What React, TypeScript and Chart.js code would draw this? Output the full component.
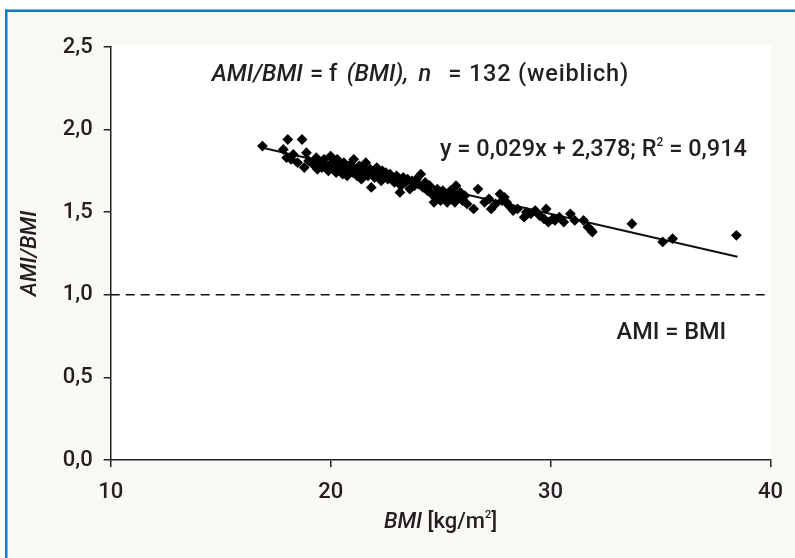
import React, { useEffect, useRef } from 'react';
import { Chart, registerables } from 'chart.js';

Chart.register(...registerables);

// BMI values (x), n = 132
const bmiValues = [
  16.9, 17.85, 18.05, 18.7, 18.0, 18.2, 18.3, 18.5, 18.9, 18.8,
  19.0, 19.2, 19.35, 19.4, 19.55, 19.6, 19.7, 19.8, 19.9, 20.0,
  20.05, 20.1, 20.2, 20.25, 20.3, 20.4, 20.5, 20.55, 20.6, 20.7,
  20.75, 20.8, 20.9, 21.0, 21.05, 21.1, 21.2, 21.3, 21.35, 21.4,
  21.5, 21.55, 21.6, 21.7, 21.8, 21.85, 21.9, 22.0, 22.1, 22.2,
  22.3, 22.35, 22.4, 22.5, 22.6, 22.7, 22.8, 22.9, 23.0, 23.1,
  23.15, 23.2, 23.3, 23.4, 23.5, 23.6, 23.7, 23.8, 23.9, 24.0,
  24.1, 24.2, 24.3, 24.4, 24.5, 24.6, 24.7, 24.75, 24.85, 24.95,
  25.0, 25.05, 25.1, 25.2, 25.25, 25.3, 25.4, 25.45, 25.5, 25.6,
  25.65, 25.7, 25.8, 25.9, 26.0, 26.1, 26.2, 26.5, 26.7, 27.0,
  27.2, 27.3, 27.5, 27.7, 27.8, 27.9, 28.0, 28.1, 28.3, 28.5,
  28.8, 28.9, 29.1, 29.3, 29.5, 29.7, 29.8, 29.9, 30.1, 30.2,
  30.4, 30.6, 30.9, 31.1, 31.5, 31.7, 31.85, 31.9, 33.7, 35.1,
  35.55, 38.45,
];

// AMI/BMI values (y), same order as bmiValues
const ratioValues = [
  1.90, 1.88, 1.94, 1.94, 1.83, 1.82, 1.85, 1.80, 1.86, 1.77,
  1.81, 1.79, 1.83, 1.76, 1.80, 1.77, 1.82, 1.78, 1.75, 1.84,
  1.80, 1.77, 1.79, 1.74, 1.82, 1.76, 1.78, 1.73, 1.80, 1.75,
  1.72, 1.77, 1.79, 1.74, 1.82, 1.76, 1.72, 1.78, 1.75, 1.70,
  1.77, 1.74, 1.80, 1.72, 1.76, 1.65, 1.74, 1.71, 1.77, 1.73,
  1.69, 1.75, 1.72, 1.74, 1.70, 1.73, 1.71, 1.68, 1.72, 1.70,
  1.62, 1.66, 1.71, 1.68, 1.70, 1.64, 1.69, 1.66, 1.70, 1.67,
  1.73, 1.65, 1.68, 1.63, 1.66, 1.61, 1.56, 1.59, 1.64, 1.62,
  1.57, 1.60, 1.63, 1.58, 1.61, 1.56, 1.60, 1.63, 1.58, 1.61,
  1.56, 1.66, 1.59, 1.62, 1.57, 1.60, 1.55, 1.52, 1.64, 1.56,
  1.58, 1.52, 1.55, 1.61, 1.57, 1.59, 1.56, 1.54, 1.51, 1.52,
  1.47, 1.50, 1.49, 1.51, 1.48, 1.46, 1.52, 1.44, 1.46, 1.45,
  1.47, 1.44, 1.49, 1.45, 1.45, 1.41, 1.39, 1.38, 1.43, 1.32,
  1.34, 1.36,
];

// regression line end points
const fitBmi = [16.9, 38.5];
const fitRatio = [1.89, 1.23];

// reference line AMI = BMI
const refBmi = [10, 40];
const refRatio = [1.0, 1.0];

const xTickValues = [10, 20, 30, 40];
const yTickValues = [0, 0.5, 1.0, 1.5, 2.0, 2.5];

// title pieces: text, italic, BMI value of the left edge, letter spacing
const titleSegments: [string, boolean, number, number][] = [
  ['AMI/BMI', true, 14.59, 0],
  ['= f', false, 19.06, 0],
  ['(BMI),', true, 20.73, 0],
  ['n', true, 24.0, 0],
  ['= 132 (weiblich)', false, 25.35, 0.8],
];
const equationMain = 'y = 0,029x + 2,378; R';
const equationSup = '2';
const equationTail = ' = 0,914';
const refLabel = 'AMI = BMI';
const xTitleItalic = 'BMI';
const xTitleMain = ' [kg/m';
const xTitleSup = '2';
const xTitleEnd = ']';
const yTitle = 'AMI/BMI';

const FONT = 'Roboto, "Noto Sans", sans-serif';
const TEXT = '#231f20';
const TXT_SIZE = 23.5;
const WEIGHT = 500;

function font(size: number, italic: boolean) {
  return `${italic ? 'italic ' : ''}${WEIGHT} ${size}px ${FONT}`;
}

const framePlugin = {
  id: 'frame',
  beforeDraw(chart: any) {
    const { ctx, width, height, chartArea } = chart;
    ctx.save();
    ctx.fillStyle = '#ffffff';
    ctx.fillRect(0, 0, width, height);
    ctx.fillStyle = '#f9f8f4';
    ctx.fillRect(5, 9, width - 5, height - 9);
    ctx.fillStyle = '#1479c2';
    ctx.fillRect(5, 9.5, width - 5, 2.5);
    ctx.fillRect(5, 9.5, 2.5, height - 9.5);
    ctx.fillStyle = '#ffffff';
    ctx.fillRect(chartArea.left, chartArea.top - 2, chartArea.right - chartArea.left, chartArea.bottom - chartArea.top + 2);
    ctx.restore();
  },
};

type Seg = [string, boolean, number?, number?];

function drawSegments(ctx: CanvasRenderingContext2D, x: number, y: number, segs: Seg[]) {
  let cx = x;
  for (const [t, it, size, dy] of segs) {
    ctx.font = font(size ?? TXT_SIZE, it);
    ctx.fillText(t, cx, y + (dy ?? 0));
    cx += ctx.measureText(t).width;
  }
  return cx;
}

function measureSegments(ctx: CanvasRenderingContext2D, segs: Seg[]) {
  let w = 0;
  for (const [t, it, size] of segs) {
    ctx.font = font(size ?? TXT_SIZE, it);
    w += ctx.measureText(t).width;
  }
  return w;
}

const textPlugin = {
  id: 'texts',
  afterDraw(chart: any) {
    const { ctx, scales, chartArea } = chart;
    const xs = scales.x;
    const ys = scales.y;
    ctx.save();
    ctx.fillStyle = TEXT;
    ctx.textBaseline = 'middle';
    ctx.textAlign = 'left';

    // title inside plot
    const ty = ys.getPixelForValue(2.33);
    for (const [t, it, at, ls] of titleSegments) {
      (ctx as any).letterSpacing = `${ls}px`;
      drawSegments(ctx, xs.getPixelForValue(at), ty, [[t, it]]);
    }
    (ctx as any).letterSpacing = '0px';

    // regression equation
    const ex = xs.getPixelForValue(24.97);
    const ey = ys.getPixelForValue(1.877);
    drawSegments(ctx, ex, ey, [
      [equationMain, false],
      [equationSup, false, 12, -7],
      [equationTail, false],
    ]);

    // reference label
    drawSegments(ctx, xs.getPixelForValue(33.0), ys.getPixelForValue(0.769), [[refLabel, false]]);

    // x-axis title
    const segs: Seg[] = [
      [xTitleItalic, true, 22],
      [xTitleMain, false, 22],
      [xTitleSup, false, 11, -7],
      [xTitleEnd, false, 22],
    ];
    const w = measureSegments(ctx, segs);
    const cx = (chartArea.left + chartArea.right) / 2;
    drawSegments(ctx, cx - w / 2, 522, segs);
    ctx.restore();
  },
};

export default function App() {
  const canvasRef = useRef<HTMLCanvasElement | null>(null);

  useEffect(() => {
    document.body.style.margin = '0';
    const canvas = canvasRef.current;
    if (!canvas) return;

    const points = bmiValues.map((b, i) => ({ x: b, y: ratioValues[i] }));
    const fit = fitBmi.map((b, i) => ({ x: b, y: fitRatio[i] }));
    const ref = refBmi.map((b, i) => ({ x: b, y: refRatio[i] }));

    const chart = new Chart(canvas, {
      type: 'scatter',
      data: {
        datasets: [
          {
            label: 'AMI = BMI',
            data: ref,
            showLine: true,
            borderColor: '#111111',
            borderWidth: 1.5,
            borderDash: [9, 6],
            pointRadius: 0,
            order: 3,
          },
          {
            label: 'Regression',
            data: fit,
            showLine: true,
            borderColor: '#111111',
            borderWidth: 2,
            pointRadius: 0,
            order: 2,
          },
          {
            label: 'AMI/BMI',
            data: points,
            pointStyle: 'rectRot',
            pointRadius: 5.4,
            backgroundColor: '#000000',
            borderColor: '#000000',
            borderWidth: 0,
            order: 1,
          },
        ],
      },
      options: {
        animation: false,
        responsive: false,
        maintainAspectRatio: false,
        layout: { padding: { left: 0, right: 24.3, top: 47, bottom: 0 } },
        plugins: {
          legend: { display: false },
          tooltip: { enabled: false },
          title: { display: false },
        },
        scales: {
          x: {
            type: 'linear',
            min: 10,
            max: 40,
            afterFit: (s: any) => { s.height = 98; },
            afterBuildTicks: (s: any) => { s.ticks = xTickValues.map((v) => ({ value: v })); },
            ticks: {
              color: TEXT,
              font: { family: FONT, size: 22, weight: WEIGHT },
              padding: 12,
              callback: (v: any) => String(v),
            },
            grid: { display: true, drawOnChartArea: false, drawTicks: true, tickLength: 7, color: '#222222', lineWidth: 1.5 },
            border: { display: true, color: '#222222', width: 1.5 },
          },
          y: {
            type: 'linear',
            min: 0,
            max: 2.5,
            afterFit: (s: any) => { s.width = 110.7; },
            afterBuildTicks: (s: any) => { s.ticks = yTickValues.map((v) => ({ value: v })); },
            ticks: {
              color: TEXT,
              font: { family: FONT, size: 22, weight: WEIGHT },
              padding: 11,
              callback: (v: any) => Number(v).toFixed(1).replace('.', ','),
            },
            grid: { display: true, drawOnChartArea: false, drawTicks: true, tickLength: 7, color: '#222222', lineWidth: 1.5 },
            border: { display: true, color: '#222222', width: 1.5 },
            title: {
              display: true,
              text: yTitle,
              color: TEXT,
              font: { family: FONT, size: 22, style: 'italic', weight: WEIGHT },
              padding: { top: 17, bottom: 0 },
            },
          },
        },
      },
      plugins: [framePlugin, textPlugin],
    });

    return () => chart.destroy();
  }, []);

  return (
    <div style={{ width: 795, height: 558 }}>
      <canvas ref={canvasRef} width={795} height={558} style={{ display: 'block', width: 795, height: 558 }} />
    </div>
  );
}
